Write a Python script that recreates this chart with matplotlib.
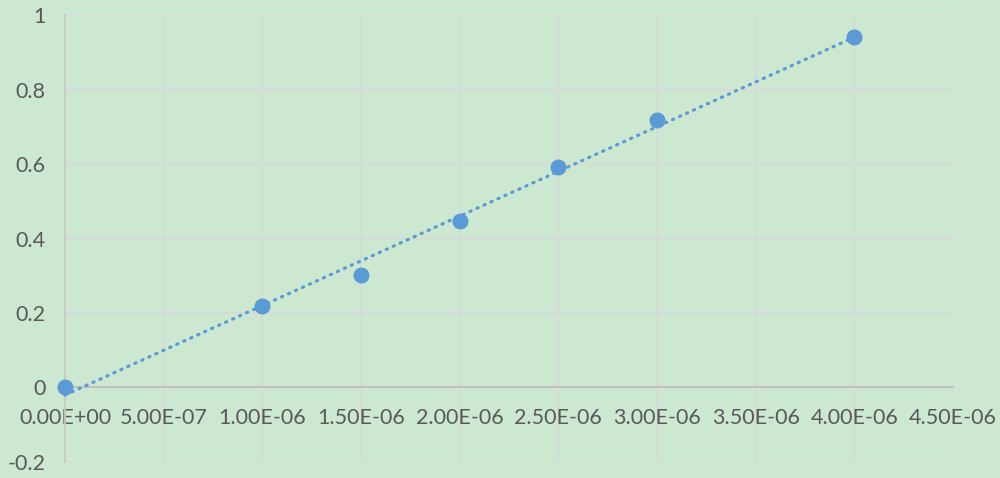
import numpy as np
import matplotlib.pyplot as plt
from matplotlib.ticker import FuncFormatter, MultipleLocator

# concentration (M) vs absorbance
conc = [0.0, 1.0e-6, 1.5e-6, 2.0e-6, 2.5e-6, 3.0e-6, 4.0e-6]
absorb = [0.0, 0.220, 0.303, 0.448, 0.593, 0.717, 0.940]

bg = '#cde8d0'
blue = '#5b9bd5'
txt = '#595959'

plt.rcParams['font.family'] = ['Lato', 'DejaVu Sans']

fig = plt.figure(figsize=(10, 4.78), dpi=100, facecolor=bg)
ax = fig.add_axes([0.065, 0.0335, 0.888, 0.935])
ax.set_facecolor(bg)

# linear trendline
k, b = np.polyfit(conc, absorb, 1)
xs = np.array([conc[0], conc[-1]])
ax.plot(xs, k * xs + b, color=blue, lw=2.3, linestyle=(0, (0.4, 2.0)),
        dash_capstyle='round', zorder=3, clip_on=False)
ax.plot(conc, absorb, 'o', color=blue, markersize=10.5, zorder=4, clip_on=False)

ax.set_xlim(0, 4.5e-6)
ax.set_ylim(-0.2, 1.0)
ax.xaxis.set_major_locator(MultipleLocator(5e-7))
ax.yaxis.set_major_locator(MultipleLocator(0.2))
ax.xaxis.set_major_formatter(FuncFormatter(lambda v, p: f"{v:.2E}"))
ax.yaxis.set_major_formatter(FuncFormatter(lambda v, p: f"{v:.1f}".rstrip('0').rstrip('.') if abs(v) > 1e-9 else "0"))

ax.grid(True, color='#d9d9d9', lw=1.3, zorder=0)
ax.set_axisbelow(True)
for s in ['top', 'right']:
    ax.spines[s].set_visible(False)
ax.spines['left'].set_color('#c8c8c8')
ax.spines['left'].set_linewidth(1.3)
ax.spines['bottom'].set_position(('data', 0))
ax.spines['bottom'].set_color('#bfbfbf')
ax.spines['bottom'].set_linewidth(1.3)

ax.tick_params(axis='both', length=0, labelsize=15.5, colors=txt)
ax.tick_params(axis='x', pad=15)
ax.tick_params(axis='y', pad=14)

fig.savefig('out.png', dpi=100, facecolor=bg)
